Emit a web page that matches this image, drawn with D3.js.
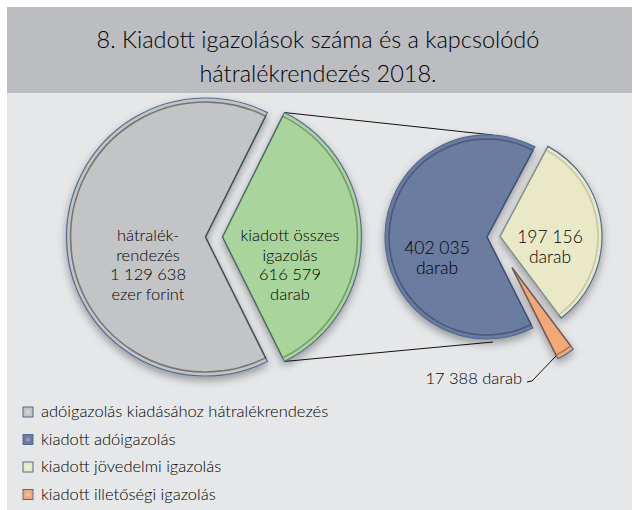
<!DOCTYPE html>
<meta charset="utf-8">
<style>
  body { margin: 0; background: #fff; }
  svg text { font-family: "Lato", "DejaVu Sans", sans-serif; font-weight: 300; fill: #000; }
  .slice { stroke: #4f6b8f; stroke-width: 1.2; }
  .inner { fill: none; stroke-width: 1.6; }
</style>
<body>
<script src="https://d3js.org/d3.v7.min.js"></script>
<script>
// data
var titleLines = ["8. Kiadott igazolások száma és a kapcsolódó", "hátralékrendezés 2018."];
var mainNames = ["hátralékrendezés", "kiadott összes igazolás"];
var mainValues = [1129638, 616579];
var mainLabels = [["hátralék-", "rendezés", "1 129 638", "ezer forint"],
                  ["kiadott összes", "igazolás", "616 579", "darab"]];
var subNames = ["kiadott adóigazolás", "kiadott jövedelmi igazolás", "kiadott illetőségi igazolás"];
var subValues = [402035, 197156, 17388];
var subLabels = [["402 035", "darab"], ["197 156", "darab"], ["17 388 darab"]];
var legendNames = ["adóigazolás kiadásához hátralékrendezés", "kiadott adóigazolás",
                   "kiadott jövedelmi igazolás", "kiadott illetőségi igazolás"];
var mainColors = ["#c3c4c6", "#a9d49b"];
var subColors = ["#6b7b9f", "#e9e9c8", "#f2a877"];
var legendColors = ["#c3c4c6", "#6b7b9f", "#e9e9c8", "#f2a877"];

var width = 633, height = 510;

var svg = d3.select("body").append("svg")
    .attr("width", width)
    .attr("height", height);

var defs = svg.append("defs");
var f = defs.append("filter").attr("id", "shadow")
    .attr("x", "-20%").attr("y", "-20%").attr("width", "140%").attr("height", "150%");
f.append("feDropShadow").attr("dx", 0).attr("dy", 4).attr("stdDeviation", 4)
    .attr("flood-color", "#000").attr("flood-opacity", 0.35);

// panels
svg.append("rect").attr("x", 7).attr("y", 7).attr("width", 625).attr("height", 503).attr("fill", "#e6e7e9");
svg.append("rect").attr("x", 7).attr("y", 7).attr("width", 625).attr("height", 86).attr("fill", "#bcbdc0");

svg.selectAll(".title").data(titleLines).enter().append("text")
    .attr("x", 318)
    .attr("y", function(d, i) { return 48 + i * 34; })
    .attr("text-anchor", "middle")
    .style("font-size", "23.5px")
    .text(function(d) { return d; });

var deg = Math.PI / 180;

function explodeShift(d, dist) {
  var a = (d.startAngle + d.endAngle) / 2;
  return [dist * Math.sin(a), -dist * Math.cos(a)];
}

// left pie: the "összes" slice is centred pointing right
var mainTotal = d3.sum(mainValues);
var greenSpan = 2 * Math.PI * mainValues[1] / mainTotal;
var mainOrder = [1, 0];
var mainPie = d3.pie().sort(null)
    .startAngle(Math.PI / 2 - greenSpan / 2)
    .endAngle(Math.PI / 2 - greenSpan / 2 + 2 * Math.PI)
    .value(function(i) { return mainValues[i]; });
var mainArcs = mainPie(mainOrder);

var leftC = [214, 237], leftR = 139;
var mainExplode = [8.5, 8.5];
var arcL = d3.arc().innerRadius(0).outerRadius(leftR);
var arcLIn = d3.arc().innerRadius(0).outerRadius(leftR - 4);

// right pie: jövedelmi slice first, starting near 28 degrees
var subOrder = [1, 2, 0];
var subPie = d3.pie().sort(null)
    .startAngle(28 * deg)
    .endAngle(28 * deg + 2 * Math.PI)
    .value(function(i) { return subValues[i]; });
var subArcs = subPie(subOrder);

var rightC = [493, 237], rightR = 102;
var subExplode = [6, 7, 36];
var arcR = d3.arc().innerRadius(0).outerRadius(rightR);
var arcRIn = d3.arc().innerRadius(0).outerRadius(rightR - 4);

// connector lines from the green slice to the second pie
var green = mainArcs[0];
var gs = explodeShift(green, mainExplode[1]);
var gx = leftC[0] + gs[0], gy = leftC[1] + gs[1];
var topPt = [gx + leftR * Math.sin(green.startAngle), gy - leftR * Math.cos(green.startAngle)];
var botPt = [gx + leftR * Math.sin(green.endAngle), gy - leftR * Math.cos(green.endAngle)];
svg.append("line").attr("x1", topPt[0]).attr("y1", topPt[1])
    .attr("x2", rightC[0]).attr("y2", rightC[1] - rightR)
    .attr("stroke", "#111").attr("stroke-width", 1);
svg.append("line").attr("x1", botPt[0]).attr("y1", botPt[1])
    .attr("x2", rightC[0]).attr("y2", rightC[1] + rightR + 3)
    .attr("stroke", "#111").attr("stroke-width", 1);

function drawSlices(arcs, center, explode, colors, arc, arcIn, innerStroke) {
  var g = svg.append("g").attr("filter", "url(#shadow)");
  arcs.forEach(function(d) {
    var i = d.data;
    var s = explodeShift(d, explode[i]);
    var sg = g.append("g")
        .attr("transform", "translate(" + (center[0] + s[0]) + "," + (center[1] + s[1]) + ")");
    sg.append("path").attr("class", "slice").attr("d", arc(d)).attr("fill", colors[i]);
    sg.append("path").attr("class", "inner").attr("d", arcIn(d))
        .attr("stroke", innerStroke[i]).attr("stroke-opacity", 0.55);
  });
}

drawSlices(mainArcs, leftC, mainExplode, mainColors, arcL, arcLIn, ["#333", "#4c6a4a"]);
drawSlices(subArcs, rightC, subExplode, subColors, arcR, arcRIn, ["#2f3d5c", "#a9ab8c", "#7a4a2a"]);

// labels
function block(lines, x, y, size, step) {
  svg.append("g").selectAll("text").data(lines).enter().append("text")
      .attr("x", x)
      .attr("y", function(d, i) { return y + i * step; })
      .attr("text-anchor", "middle")
      .style("font-size", size + "px")
      .text(function(d) { return d; });
}
block(mainLabels[0], 148, 241, 16.5, 19.5);
block(mainLabels[1], 290, 241, 16.5, 19.5);
block(subLabels[0], 437, 254, 17.5, 20);
block(subLabels[1], 550, 243, 17.5, 20);

svg.append("text").attr("x", 522).attr("y", 384)
    .attr("text-anchor", "end")
    .style("font-size", "16.5px")
    .text(subLabels[2][0]);
svg.append("path")
    .attr("d", "M527,382L532,381L556,356")
    .attr("fill", "none").attr("stroke", "#111").attr("stroke-width", 1);

// legend
var leg = svg.append("g").attr("transform", "translate(23,407)");
var row = leg.selectAll("g").data(legendNames).enter().append("g")
    .attr("transform", function(d, i) { return "translate(0," + (i * 27.5) + ")"; });
row.append("rect").attr("width", 10).attr("height", 10)
    .attr("fill", function(d, i) { return legendColors[i]; })
    .attr("stroke", "#4f6b8f").attr("stroke-width", 1);
row.append("rect").attr("x", 3).attr("y", 3).attr("width", 4).attr("height", 4)
    .attr("fill", "#fff").attr("fill-opacity", 0.25);
row.append("text").attr("x", 18).attr("y", 10)
    .style("font-size", "16.5px")
    .text(function(d) { return d; });
</script>
</body>
</html>
